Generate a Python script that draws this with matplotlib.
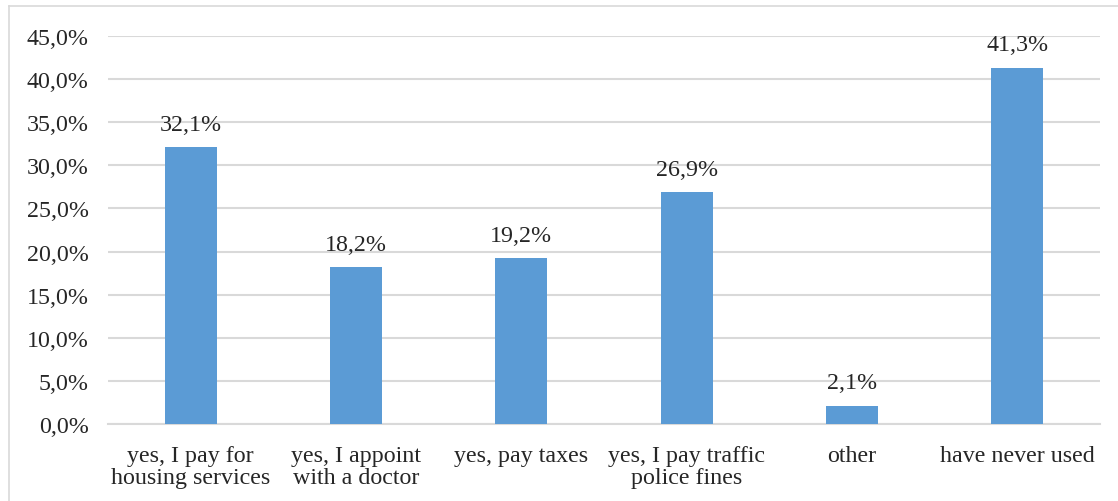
import matplotlib
matplotlib.use("Agg")
import matplotlib.pyplot as plt
from matplotlib.lines import Line2D

categories = ["yes, I pay for\nhousing services", "yes, I appoint\nwith a doctor", "yes, pay taxes",
              "yes, I pay traffic\npolice fines", "other", "have never used"]
values = [32.1, 18.2, 19.2, 26.9, 2.1, 41.3]
yticks = [0, 5, 10, 15, 20, 25, 30, 35, 40, 45]

plt.rcParams['font.family'] = ['Liberation Serif', 'DejaVu Serif']

FS = 17.3
W, H = 1118, 502
fig = plt.figure(figsize=(W / 100, H / 100), dpi=100)
ax = fig.add_axes([108 / W, 1 - 425 / H, (1100 - 108) / W, (425 - 37) / H])

x = list(range(len(categories)))
bars = ax.bar(x, values, width=0.315, color="#5B9BD5", zorder=3)
for xi, v in zip(x, values):
    ax.annotate(f"{v:.1f}%".replace(".", ","), (xi, v), xytext=(0, 9), textcoords="offset points",
                ha="center", va="bottom", fontsize=FS, color="#262626")

ax.set_xlim(-0.5, len(categories) - 0.5)
ax.set_ylim(0, 45)
ax.set_yticks(yticks)
ax.set_yticklabels([f"{t:.1f}%".replace(".", ",") for t in yticks], fontsize=FS, color="#262626")
ax.set_xticks(x)
ax.set_xticklabels(categories, fontsize=FS, color="#262626", linespacing=1.05)
ax.tick_params(axis="both", length=0)
ax.tick_params(axis="y", pad=14)
ax.tick_params(axis="x", pad=15)
ax.grid(axis="y", color="#D9D9D9", linewidth=1.5, zorder=0)
for s in ["top", "right", "left"]:
    ax.spines[s].set_visible(False)
ax.spines["bottom"].set_color("#D9D9D9")
ax.spines["bottom"].set_linewidth(1.5)

fig.add_artist(Line2D([9 / W, 1], [1 - 7 / H, 1 - 7 / H], color="#D9D9D9", linewidth=1.2, transform=fig.transFigure))
fig.add_artist(Line2D([9 / W, 9 / W], [0, 1 - 7 / H], color="#D9D9D9", linewidth=1.2, transform=fig.transFigure))

fig.savefig("out.png", dpi=100)
